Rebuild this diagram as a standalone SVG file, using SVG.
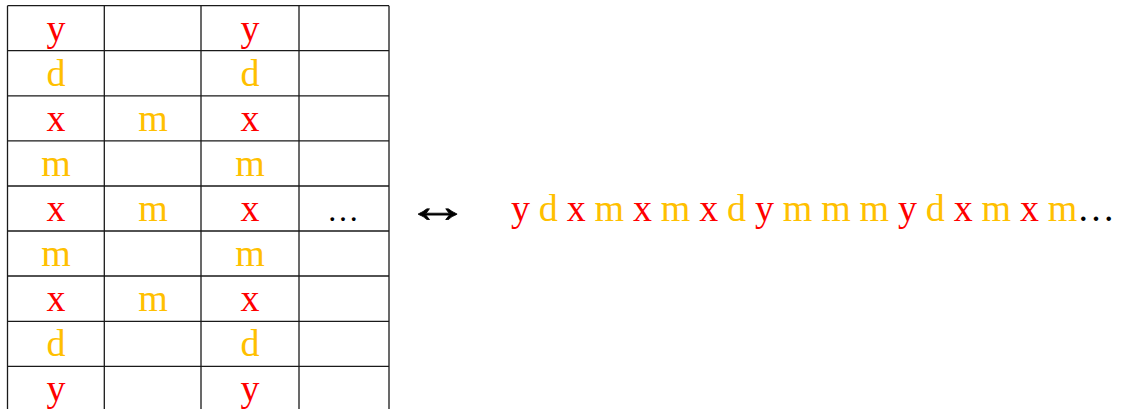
<svg xmlns="http://www.w3.org/2000/svg" width="1123" height="409" viewBox="0 0 1123 409">
  <style>
    .grid { stroke: #1a1a1a; stroke-width: 1.3; fill: none; }
    text { font-family: "Liberation Serif", "Times New Roman", serif; font-size: 38px; }
    .c { text-anchor: middle; }
    .r { fill: #FF0000; }
    .o { fill: #FFC000; }
    .k { fill: #000000; }
  </style>
  <rect width="1123" height="409" fill="#ffffff"/>

  <!-- table grid -->
  <g id="table">
    <path class="grid" d="M7.5 5.7V409 M104.3 5.7V409 M201 5.7V409 M299 5.7V409 M389 5.7V409
      M7.5 5.7H389 M7.5 50.7H389 M7.5 95.8H389 M7.5 140.9H389 M7.5 186H389
      M7.5 231H389 M7.5 276H389 M7.5 321.3H389 M7.5 366.3H389"/>
  </g>

  <!-- column 1 -->
  <g id="col1">
    <text class="c r" x="56" y="41">y</text>
    <text class="c o" x="56" y="86">d</text>
    <text class="c r" x="56" y="131">x</text>
    <text class="c o" x="56" y="176">m</text>
    <text class="c r" x="56" y="221">x</text>
    <text class="c o" x="56" y="266">m</text>
    <text class="c r" x="56" y="311">x</text>
    <text class="c o" x="56" y="356">d</text>
    <text class="c r" x="56" y="401">y</text>
  </g>

  <!-- column 2 -->
  <g id="col2">
    <text class="c o" x="153" y="131">m</text>
    <text class="c o" x="153" y="221">m</text>
    <text class="c o" x="153" y="311">m</text>
  </g>

  <!-- column 3 -->
  <g id="col3">
    <text class="c r" x="250" y="41">y</text>
    <text class="c o" x="250" y="86">d</text>
    <text class="c r" x="250" y="131">x</text>
    <text class="c o" x="250" y="176">m</text>
    <text class="c r" x="250" y="221">x</text>
    <text class="c o" x="250" y="266">m</text>
    <text class="c r" x="250" y="311">x</text>
    <text class="c o" x="250" y="356">d</text>
    <text class="c r" x="250" y="401">y</text>
  </g>

  <!-- column 4 -->
  <g id="col4">
    <text class="c k" x="343" y="221" style="font-size:32px">…</text>
  </g>

  <!-- equivalence sign, stretched horizontally -->
  <g id="arrow" transform="translate(438 222) scale(1.4 1)">
    <text class="c k" x="0" y="0" style="font-size:46px; stroke:#000; stroke-width:0.7">↔</text>
  </g>

  <!-- flattened sequence -->
  <g id="sequence">
    <text x="511" y="221" textLength="604" xml:space="preserve"><tspan class="r">y</tspan> <tspan class="o">d</tspan> <tspan class="r">x</tspan> <tspan class="o">m</tspan> <tspan class="r">x</tspan> <tspan class="o">m</tspan> <tspan class="r">x</tspan> <tspan class="o">d</tspan> <tspan class="r">y</tspan> <tspan class="o">m</tspan> <tspan class="o">m</tspan> <tspan class="o">m</tspan> <tspan class="r">y</tspan> <tspan class="o">d</tspan> <tspan class="r">x</tspan> <tspan class="o">m</tspan> <tspan class="r">x</tspan> <tspan class="o">m</tspan><tspan class="k">…</tspan></text>
  </g>
</svg>
